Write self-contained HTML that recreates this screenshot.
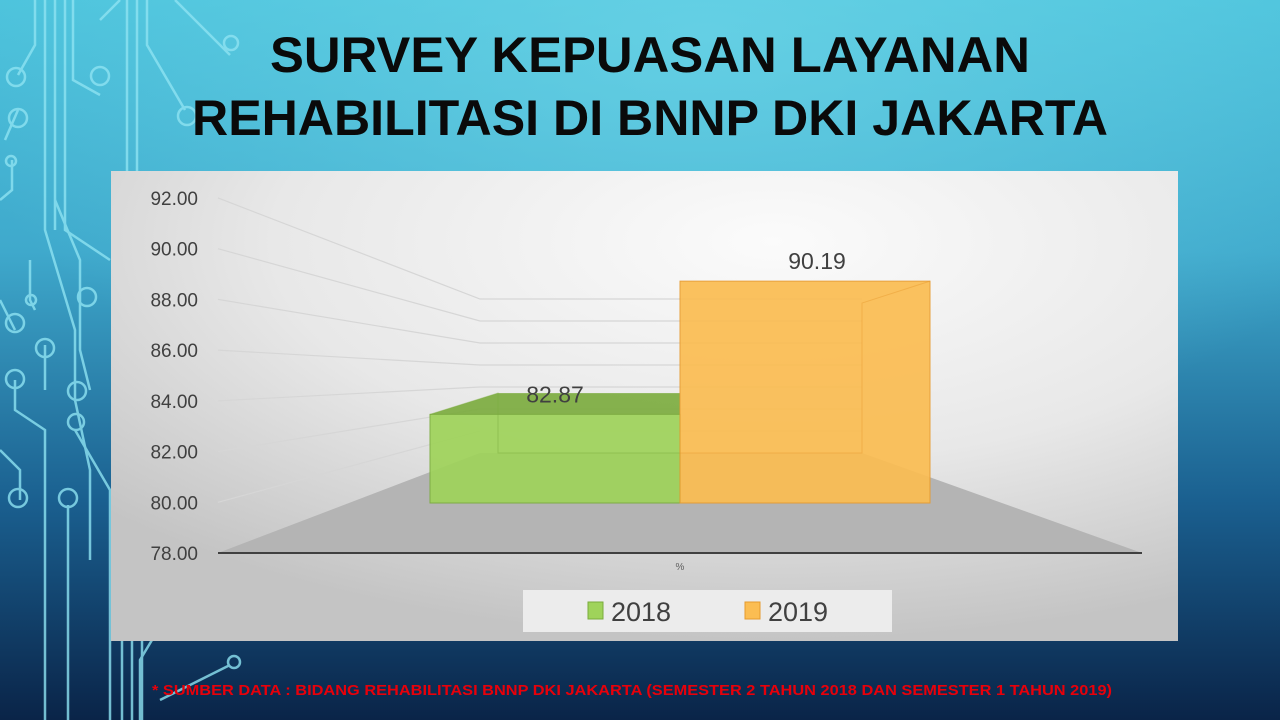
<!DOCTYPE html>
<html><head><meta charset="utf-8"><style>
html,body{margin:0;padding:0;width:1280px;height:720px;overflow:hidden}
svg{display:block;font-family:"Liberation Sans",sans-serif}
</style></head><body>
<svg id="s" width="1280" height="720" viewBox="0 0 1280 720">
<defs>
<linearGradient id="bg" x1="0" y1="0" x2="0" y2="1">
<stop offset="0" stop-color="#4cc3dc"/><stop offset="0.35" stop-color="#3fa9cc"/><stop offset="0.7" stop-color="#1a5f8f"/><stop offset="1" stop-color="#0a2448"/></linearGradient>
<radialGradient id="glow" cx="0.55" cy="0.05" r="0.6"><stop offset="0" stop-color="#6fd6e8" stop-opacity="0.7"/><stop offset="1" stop-color="#6fd6e8" stop-opacity="0"/></radialGradient>
<radialGradient id="panel" cx="0.62" cy="0.15" r="0.85"><stop offset="0" stop-color="#fbfbfb"/><stop offset="0.55" stop-color="#e8e8e8"/><stop offset="1" stop-color="#c4c4c4"/></radialGradient>
</defs>
<rect width="1280" height="720" fill="url(#bg)"/>
<rect width="1280" height="720" fill="url(#glow)"/>
<g stroke="#8ee3f2" stroke-width="2.5" fill="none" opacity="0.8">
<path d="M35 0 V45 L18 75"/><circle cx="16" cy="77" r="9"/>
<path d="M45 0 V230 L75 330 V400"/><path d="M55 0 V230"/><path d="M65 0 V230 L110 260"/>
<path d="M73 0 V80 L100 95"/><circle cx="100" cy="76" r="9"/>
<path d="M100 20 L120 0"/><path d="M127 0 V210"/><path d="M137 0 V210 L175 290"/><path d="M147 0 V45 L185 110"/><circle cx="187" cy="116" r="9"/>
<path d="M175 0 L230 55"/><circle cx="231" cy="43" r="7"/>
<path d="M5 140 L18 110"/><circle cx="18" cy="118" r="9"/>
<path d="M12 160 V190 L0 200"/><circle cx="11" cy="161" r="5"/>
<path d="M55 200 L80 260 V350 L90 390"/><circle cx="87" cy="297" r="9"/>
<path d="M30 260 V300 L35 310"/><circle cx="31" cy="300" r="5"/>
<path d="M0 300 L15 330"/><circle cx="15" cy="323" r="9"/>
<path d="M45 345 V390"/><circle cx="45" cy="348" r="9"/>
<path d="M75 400 L90 470 V560"/><circle cx="77" cy="391" r="9"/>
<path d="M15 380 V410 L45 430 V720"/><circle cx="15" cy="379" r="9"/>
<path d="M75 430 L110 490 V720"/><circle cx="76" cy="422" r="8"/>
<path d="M0 450 L20 470 V500"/><circle cx="18" cy="498" r="9"/>
<path d="M68 505 V720"/><circle cx="68" cy="498" r="9"/>
<path d="M122 640 V720"/><path d="M132 640 V720"/><path d="M142 640 V720"/><path d="M152 640 L140 660 V720"/>
<path d="M160 700 L230 665"/><circle cx="234" cy="662" r="6"/>
</g>
<g font-weight="bold" font-size="50" fill="#0a0a0a" text-anchor="middle">
<text x="650" y="72" textLength="760" lengthAdjust="spacingAndGlyphs">SURVEY KEPUASAN LAYANAN</text>
<text x="650" y="135" textLength="916" lengthAdjust="spacingAndGlyphs">REHABILITASI DI BNNP DKI JAKARTA</text>
</g>
<rect x="111" y="171" width="1067" height="470" fill="url(#panel)"/>
<g id="chart"></g>
<text x="632" y="695" text-anchor="middle" font-size="14.5" font-weight="bold" fill="#e8000a" textLength="960" lengthAdjust="spacingAndGlyphs">* SUMBER DATA :  BIDANG REHABILITASI BNNP DKI JAKARTA (SEMESTER  2 TAHUN 2018  DAN SEMESTER 1 TAHUN 2019)</text>
</svg>
<script>
const categories = ["2018", "2019"];
const values = [82.87, 90.19];
const ticks = [78, 80, 82, 84, 86, 88, 90, 92];
const tickLabels = ["78.00","80.00","82.00","84.00","86.00","88.00","90.00","92.00"];
const colors = ["#9fd35a", "#fbbd52"];
const edgeColors = ["#7aab3c", "#e69a2e"];

const NS = "http://www.w3.org/2000/svg";
const g = document.getElementById("chart");
const yMin = 78;
function yAxis(v){ return 553 - (v - yMin) * 25.36; }
function yWall(v){ return 453 - (v - yMin) * 11; }
function yFront(v){ return 503 - (v - yMin) * 18.2; }
function yBarBack(v){ return 453 - (v - yMin) * 12.3; }
function el(t, a){ const e = document.createElementNS(NS, t); for (const k in a) e.setAttribute(k, a[k]); g.appendChild(e); return e; }

const floor = el("polygon", {points:"218,553 1142,553 862,453 480,453", fill:"#b4b4b4"});


ticks.forEach((t, i) => {
  if (t > yMin) {
    const gl = el("polyline", {points:`218,${yAxis(t)} 480,${yWall(t)} 862,${yWall(t)}`, fill:"none", stroke:"#d6d6d6", "stroke-width":1.2});
    
    
  }
  const tl = el("text", {x:198, y:yAxis(t)+7, "text-anchor":"end", "font-size":19, fill:"#404040"});
  tl.textContent = tickLabels[i];
  
  
});
const ax = el("line", {x1:218, y1:553, x2:1142, y2:553, stroke:"#404040", "stroke-width":2});


const pct = el("text", {x:680, y:570, "text-anchor":"middle", "font-size":10, fill:"#606060"});
pct.textContent = "%";



const frontX = [[430, 680], [680, 930]];
const backX = [[498, 680], [680, 862]];
values.forEach((v, i) => {
  const [fx0, fx1] = frontX[i], [bx0, bx1] = backX[i];
  const yt = yFront(v), ybt = yBarBack(v), yb = yFront(yMin);
  if (ybt < yt) {
    const top = el("polygon", {points:`${fx0},${yt} ${bx0},${ybt} ${bx1},${ybt} ${fx1},${yt}`, fill:edgeColors[i], opacity:0.9});
    
    
  }
  const front = el("rect", {x:fx0, y:yt, width:fx1-fx0, height:yb-yt, fill:colors[i], stroke:edgeColors[i], "stroke-width":1, opacity:0.92});
  
  
  const ox = i ? bx1 : bx0, fxo = i ? fx1 : fx0;
  const inner = el("polyline", {points:`${fxo},${yt} ${ox},${ybt} ${ox},${yWall(yMin)} ${i?bx0:bx1},${yWall(yMin)}`, fill:"none", stroke:edgeColors[i], "stroke-width":1, opacity:0.45});
  
  
  const lbl = el("text", {x:(fx0+fx1)/2 + (i?12:0), y:yt-12, "text-anchor":"middle", "font-size":23, fill:"#404040"});
  lbl.textContent = v.toFixed(2);
  
  
});

const lg = el("rect", {x:523, y:590, width:369, height:42, fill:"#ececec"});


const legX = [588, 745];
categories.forEach((c, i) => {
  const sw = el("rect", {x:legX[i], y:602, width:15, height:17, fill:colors[i], stroke:edgeColors[i]});
  
  
  const t = el("text", {x:legX[i]+23, y:621, "font-size":27, fill:"#404040"});
  t.textContent = c;
  
  
});
</script>
</body></html>
